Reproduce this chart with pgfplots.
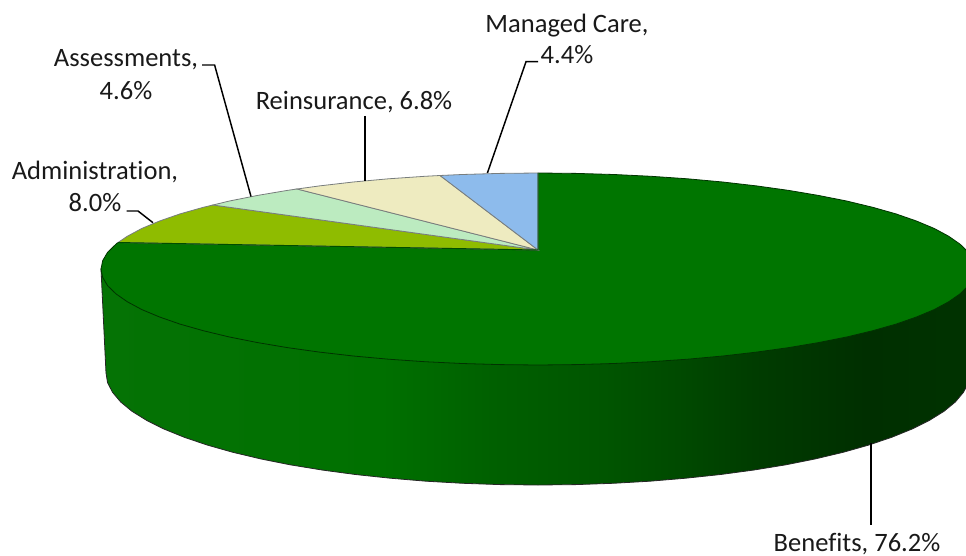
\documentclass[border=0pt]{standalone}
\usepackage{fontspec}
\setmainfont[Ligatures=NoCommon]{Carlito}
\usepackage{pgfplots}
\pgfplotsset{compat=1.18}
\definecolor{topgreen}{RGB}{0,117,0}
\definecolor{olive}{RGB}{143,188,0}
\definecolor{mint}{RGB}{188,235,192}
\definecolor{cream}{RGB}{238,235,192}
\definecolor{skyblue}{RGB}{141,187,236}
\definecolor{rimgray}{RGB}{120,125,125}
\pgfdeclarehorizontalshading{sidegreen}{100bp}{
  rgb(0bp)=(0.02,0.45,0.02);
  rgb(25bp)=(0.02,0.45,0.02);
  rgb(41bp)=(0,0.44,0);
  rgb(47.4bp)=(0,0.376,0);
  rgb(53.8bp)=(0,0.333,0);
  rgb(58bp)=(0,0.29,0);
  rgb(62.4bp)=(0,0.235,0);
  rgb(68.8bp)=(0,0.184,0);
  rgb(75bp)=(0,0.2,0);
  rgb(100bp)=(0,0.2,0)}
\newcommand{\lab}[3]{\node[anchor=base,font=\fontsize{19.9}{22}\selectfont,text=black!90,inner sep=0pt] at (axis cs:#1,#2) {#3};}
\begin{document}
\begin{tikzpicture}
\begin{axis}[
  scale only axis,
  width=724.5pt,
  height=417pt,
  xmin=0, xmax=966,
  ymin=0, ymax=556,
  y dir=reverse,
  axis lines=none,
]
% side wall
\addplot[shading=sidegreen, draw=black!85, line width=0.6pt] coordinates {
  (101,269) (106,373) (107.6,382.8) (112.6,392.4) (120.7,402) (132,411.3)
  (146.5,420.3) (163.9,429) (184.1,437.2) (207.1,445) (232.5,452.2)
  (260.3,458.8) (290.2,464.8) (322,470) (355.4,474.5) (390.3,478.2)
  (426.2,481.2) (463,483.3) (500.3,484.6) (538,485) (575.7,484.6) (613,483.3)
  (649.8,481.2) (685.7,478.2) (720.6,474.5) (754,470) (785.8,464.8)
  (815.7,458.8) (843.5,452.2) (868.9,445) (891.9,437.2) (912.1,429)
  (929.5,420.3) (944,411.3) (955.3,402) (963.4,392.4) (968.4,382.8) (970,373)
  (975,269)
} -- cycle;
% Benefits
\addplot[fill=topgreen, draw=black!80!green, line width=0.6pt] coordinates {
  (538,250) (538,173) (576.1,173.4) (613.9,174.5) (651.1,176.3) (687.5,178.8)
  (722.7,182) (756.5,185.9) (788.7,190.4) (818.9,195.5) (847,201.1)
  (872.7,207.3) (896,213.9) (916.4,221) (934.1,228.4) (948.6,236.2)
  (960.1,244.2) (968.4,252.3) (973.3,260.6) (975,269) (973.3,277.4)
  (968.4,285.7) (960.1,293.8) (948.6,301.8) (934.1,309.6) (916.4,317)
  (896,324.1) (872.7,330.7) (847,336.9) (818.9,342.5) (788.7,347.6)
  (756.5,352.1) (722.7,356) (687.5,359.2) (651.1,361.7) (613.9,363.5)
  (576.1,364.6) (538,365) (499.9,364.6) (462.1,363.5) (424.9,361.7)
  (388.5,359.2) (353.3,356) (319.5,352.1) (287.3,347.6) (257.1,342.5)
  (229,336.9) (203.3,330.7) (180,324.1) (159.6,317) (141.9,309.6)
  (127.4,301.8) (115.9,293.8) (107.6,285.7) (102.7,277.4) (101,269)
  (102.7,260.6) (107.6,252.3) (115.9,244.2) (118,242.5)
} -- cycle;
% Administration
\addplot[fill=olive, draw=rimgray, line width=0.6pt] coordinates {
  (538,250) (118,242.5) (127.4,236.2) (141.9,228.4) (159.6,221) (180,213.9)
  (203.3,207.3) (213,205)
} -- cycle;
% Assessments
\addplot[fill=mint, draw=rimgray, line width=0.6pt] coordinates {
  (538,250) (213,205) (229,201.1) (257.1,195.5) (287.3,190.4) (297,189)
} -- cycle;
% Reinsurance
\addplot[fill=cream, draw=rimgray, line width=0.6pt] coordinates {
  (538,250) (297,189) (319.5,185.9) (353.3,182) (388.5,178.8) (424.9,176.3)
  (440,175.5)
} -- cycle;
% Managed Care
\addplot[fill=skyblue, draw=rimgray, line width=0.6pt] coordinates {
  (538,250) (440,175.5) (462.1,174.5) (499.9,173.4) (538,173)
} -- cycle;
% Benefits edges of the slices
\addplot[draw=black!70!green, line width=0.7pt] coordinates {(118,242.5) (538,250) (538,173)};
% leader lines
\addplot[black, line width=1.1pt] coordinates {(871,443) (871,525)};
\addplot[black, line width=1.1pt] coordinates {(365,116) (365,181)};
\addplot[black, line width=1.1pt] coordinates {(538,61.7) (526,61.7) (487.4,173)};
\addplot[black, line width=1.1pt] coordinates {(202,65) (214.6,65) (251,196.5)};
\addplot[black, line width=1.1pt] coordinates {(126.7,211) (138,211) (153,222.7)};
% labels
\lab{567}{33}{Managed Care,}
\lab{567}{64}{4.4\%}
\lab{126}{67}{Assessments,}
\lab{126}{100}{4.6\%}
\lab{354}{110}{Reinsurance, 6.8\%}
\lab{95}{180}{Administration,}
\lab{95}{211}{8.0\%}
\lab{857}{551}{Benefits, 76.2\%}
\end{axis}
\pgfresetboundingbox
\path[use as bounding box] (0,0) rectangle (724.5pt,417pt);
\end{tikzpicture}
\end{document}
